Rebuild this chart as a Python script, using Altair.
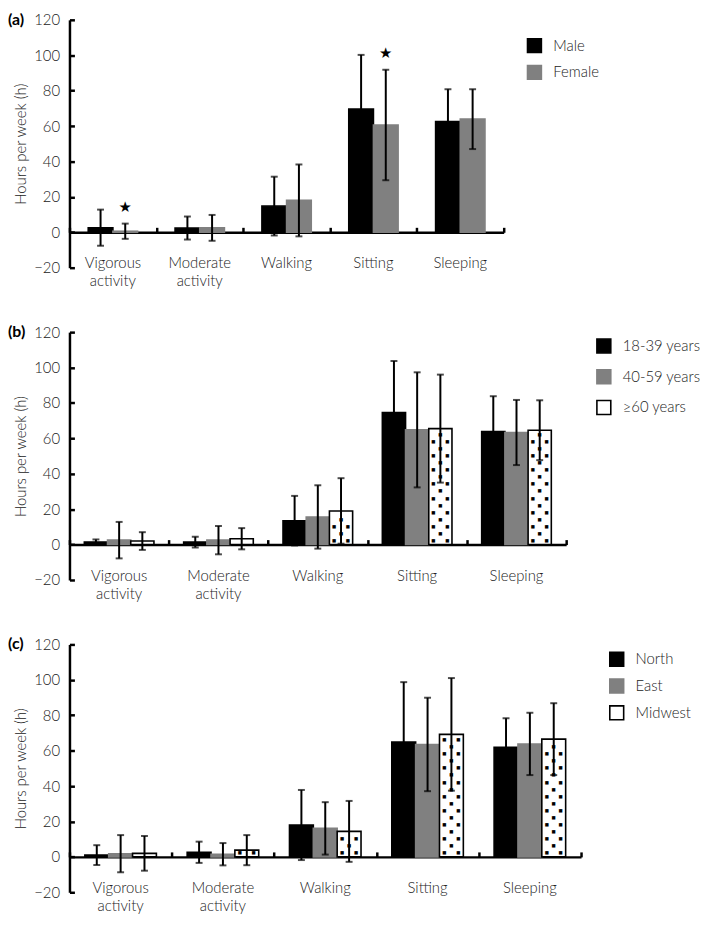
import altair as alt
import pandas as pd

FONT = "Lato"

categories = ["Vigorous activity", "Moderate activity", "Walking", "Sitting", "Sleeping"]
y_ticks = [-20, 0, 20, 40, 60, 80, 100, 120]

# Panel (a): sex
sex_groups = ["Male", "Female"]
male_mean = [2.6, 2.4, 14.8, 69.6, 62.5]
male_sd = [10.2, 6.5, 16.6, 30.6, 18.3]
female_mean = [0.6, 2.5, 18.0, 60.6, 63.9]
female_sd = [4.3, 7.3, 20.3, 31.2, 16.9]
sex_stars = [("Female", "Vigorous activity"), ("Female", "Sitting")]

# Panel (b): age
age_groups = ["18-39 years", "40-59 years", "≥60 years"]
age1_mean = [1.5, 1.4, 13.5, 74.6, 63.8]
age1_sd = [1.4, 3.0, 14.0, 29.1, 20.0]
age2_mean = [2.5, 2.5, 15.6, 64.8, 63.3]
age2_sd = [10.3, 8.0, 17.9, 32.5, 18.4]
age3_mean = [2.0, 3.3, 19.0, 65.5, 64.6]
age3_sd = [5.0, 6.0, 18.5, 30.5, 16.9]

# Panel (c): region
region_groups = ["North", "East", "Midwest"]
north_mean = [1.0, 2.6, 18.0, 64.9, 61.9]
north_sd = [5.6, 6.0, 19.8, 33.8, 16.4]
east_mean = [1.8, 1.5, 16.1, 63.5, 63.8]
east_sd = [10.5, 6.3, 14.8, 26.4, 17.6]
midwest_mean = [2.0, 3.8, 14.4, 69.2, 66.5]
midwest_sd = [9.8, 8.5, 17.2, 31.8, 20.3]

BLACK = "#000000"
GRAY = "#808080"
WHITE = "#ffffff"
TEXT = "#222222"


def build_df(groups, means, sds, stars):
    rows = []
    for g, m, s in zip(groups, means, sds):
        for i, c in enumerate(categories):
            rows.append({"category": c, "group": g, "mean": m[i], "sd": s[i],
                         "star": (g, c) in stars})
    return pd.DataFrame(rows)


def panel(letter, groups, fills, strokes, means, sds, stars, width, height,
          pad_outer, legend_x, legend_y, row_pad, label_pad, dotted=None):
    df = build_df(groups, means, sds, stars)
    zero_top = height * 120 / 140
    zero_bottom = height * 20 / 140
    base = alt.Chart(df).transform_calculate(
        lo="datum.mean - datum.sd", hi="datum.mean + datum.sd")

    def X(axis=None):
        return alt.X("category:N", sort=categories,
                     scale=alt.Scale(domain=categories, paddingInner=0, paddingOuter=0),
                     axis=axis)

    xo = alt.XOffset("group:N", sort=groups,
                     scale=alt.Scale(domain=groups, paddingInner=0, paddingOuter=pad_outer))
    yscale = alt.Scale(domain=[-20, 120], nice=False, zero=False, padding=0)

    leg = alt.Legend(title=None, orient="none", legendX=legend_x, legendY=legend_y,
                     symbolType="square", symbolSize=196, symbolStrokeWidth=1.6,
                     labelFontSize=15, labelFont=FONT, labelColor=TEXT,
                     labelFontWeight=300,
                     labelOffset=11, rowPadding=row_pad, padding=0)

    bars = base.mark_bar(strokeWidth=1.6).encode(
        x=X(alt.Axis(orient="top", offset=-zero_top, title=None, labels=False,
                     domain=True, domainColor="black", domainWidth=2.5,
                     ticks=True, tickBand="extent", tickSize=5, tickWidth=2.5,
                     tickColor="black", grid=False)),
        xOffset=xo,
        y=alt.Y("mean:Q", scale=yscale,
                axis=alt.Axis(orient="left", values=y_ticks, title="Hours per week (h)",
                              titleFont=FONT, titleFontSize=15, titleFontWeight=300,
                              titleColor=TEXT, titlePadding=5,
                              labelFont=FONT, labelFontSize=15, labelColor=TEXT,
                              labelFontWeight=300,
                              labelPadding=10, ticks=False, domain=True,
                              domainColor="black", domainWidth=2.5, grid=False,
                              labelFlush=False)),
        fill=alt.Fill("group:N", sort=groups,
                      scale=alt.Scale(domain=groups, range=fills), legend=leg),
        stroke=alt.Stroke("group:N", sort=groups,
                          scale=alt.Scale(domain=groups, range=strokes), legend=leg),
    )

    layers = [bars]

    if dotted is not None:
        dot_specs = [("sequence(2, datum.mean - 1.5, 8)", -7),
                     ("sequence(2, datum.mean - 1.5, 8)", 7),
                     ("sequence(6, datum.mean - 1.5, 8)", 0)]
        for expr, dx in dot_specs:
            layers.append(
                base.transform_filter(alt.datum.group == dotted)
                .transform_calculate(d=expr)
                .transform_flatten(["d"])
                .mark_text(text="■", fontSize=4.5, font="DejaVu Sans", dx=dx,
                           baseline="middle", align="center", color="black",
                           fill="black")
                .encode(x=X(), xOffset=xo, y=alt.Y("d:Q", scale=yscale, axis=None))
            )

    rules = base.mark_rule(color="black", strokeWidth=2).encode(
        x=X(alt.Axis(orient="bottom", offset=-zero_bottom, domain=False, ticks=False,
                     labelPadding=label_pad, labelExpr="split(datum.label, ' ')",
                     labelFont=FONT, labelFontSize=15, labelColor=TEXT,
                     labelFontWeight=300,
                     labelLineHeight=18, labelAngle=0, title=None, grid=False)),
        xOffset=xo,
        y=alt.Y("lo:Q", scale=yscale,
                axis=alt.Axis(orient="right", offset=-width, values=y_ticks, labels=False,
                              domain=False, ticks=True, tickSize=5, tickWidth=2.5,
                              tickColor="black", title=None, grid=False)),
        y2="hi:Q",
    )
    layers.append(rules)

    for fld in ["hi", "lo"]:
        layers.append(
            base.mark_tick(color="black", thickness=2, size=7).encode(
                x=X(), xOffset=xo, y=alt.Y(f"{fld}:Q", scale=yscale, axis=None))
        )

    if stars:
        layers.append(
            base.transform_filter("datum.star")
            .mark_text(text="★", fontSize=15, font="DejaVu Sans", dy=-17,
                       baseline="middle", align="center", color="black")
            .encode(x=X(), xOffset=xo, y=alt.Y("hi:Q", scale=yscale, axis=None))
        )

    letter_layer = alt.Chart(pd.DataFrame({"letter": [letter]})).mark_text(
        font=FONT, fontSize=16, fontWeight="bold", color="black",
        align="left", baseline="middle").encode(
        text="letter:N", x=alt.value(-62), y=alt.value(0))
    layers.append(letter_layer)

    return alt.layer(*layers).resolve_axis(x="independent", y="independent").properties(
        width=width, height=height)


pa = panel("(a)", sex_groups, [BLACK, GRAY], [BLACK, GRAY],
           [male_mean, female_mean], [male_sd, female_sd], sex_stars,
           438, 250, 0.76, 461, 18, 5, 24)
pb = panel("(b)", age_groups, [BLACK, GRAY, WHITE], [BLACK, GRAY, BLACK],
           [age1_mean, age2_mean, age3_mean], [age1_sd, age2_sd, age3_sd], [],
           501, 250, 0.64, 531, 6, 9, 24, dotted="≥60 years")
pc = panel("(c)", region_groups, [BLACK, GRAY, WHITE], [BLACK, GRAY, BLACK],
           [north_mean, east_mean, midwest_mean], [north_sd, east_sd, midwest_sd], [],
           516, 250, 0.645, 544, 7, 5, 24, dotted="Midwest")

chart = alt.vconcat(pa, pb, pc, spacing=35).resolve_scale(
    fill="independent", stroke="independent", xOffset="independent",
    x="independent", y="independent"
).configure(
    font=FONT, padding={"left": 0, "top": 0, "right": 0, "bottom": 0}
).configure_view(stroke=None)

chart.save("out.html", embed_options={"renderer": "svg", "actions": False})
